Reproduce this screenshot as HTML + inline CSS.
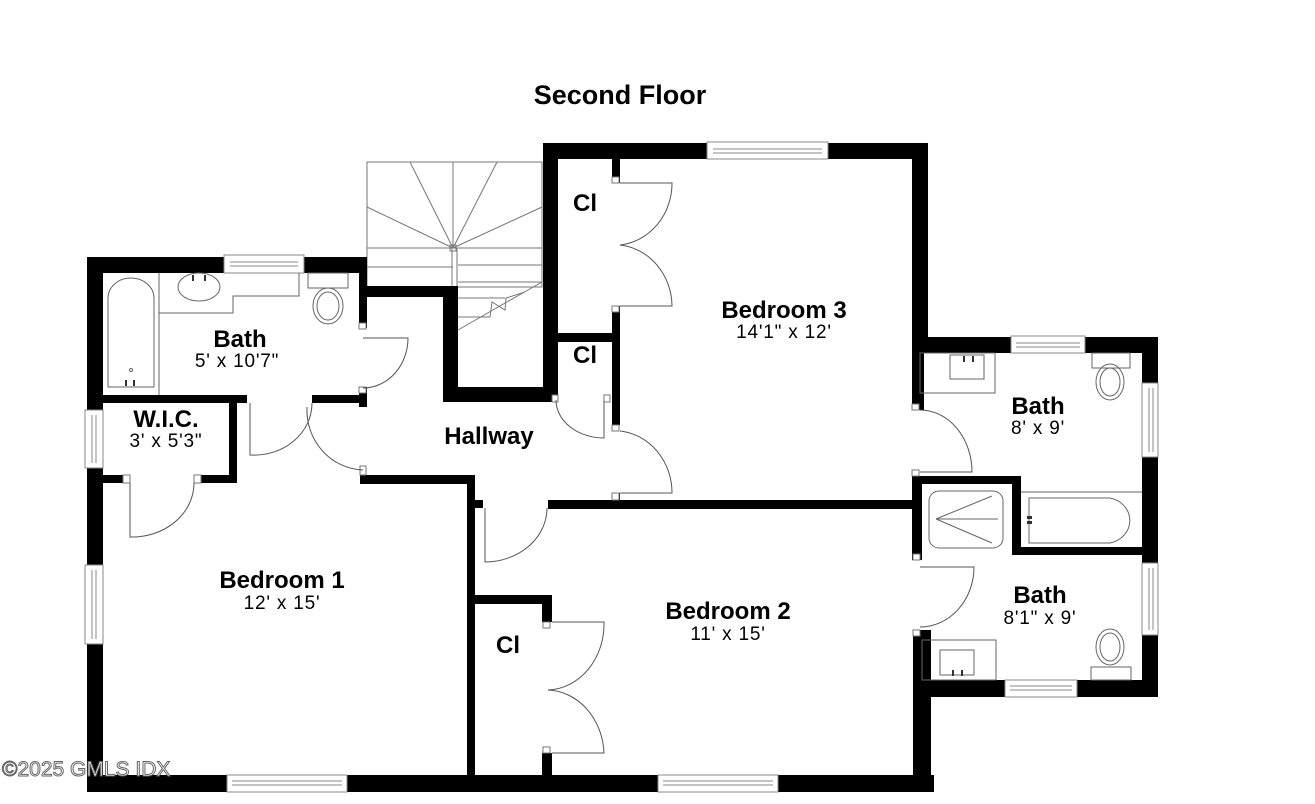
<!DOCTYPE html>
<html><head><meta charset="utf-8"><style>
html,body{margin:0;padding:0;background:#fff;}
svg{display:block;}
text{font-family:"Liberation Sans",Arial,sans-serif;fill:#000;}
.b{font-weight:bold;font-size:24px;}
.s{font-size:19px;letter-spacing:0.8px;}
</style></head><body>
<svg width="1315" height="804" viewBox="0 0 1315 804" xmlns="http://www.w3.org/2000/svg">
<rect width="1315" height="804" fill="#fff"/>

<!-- stairs -->
<g stroke="#777" stroke-width="1" fill="none">
<rect x="367" y="162" width="175" height="125"/>
<line x1="453" y1="248" x2="410" y2="162"/>
<line x1="453" y1="248" x2="453" y2="162"/>
<line x1="453" y1="248" x2="497" y2="162"/>
<line x1="453" y1="248" x2="367" y2="207"/>
<line x1="453" y1="248" x2="542" y2="207"/>
<line x1="367" y1="248" x2="542" y2="248"/>
<line x1="367" y1="267" x2="453" y2="267"/>
<line x1="458" y1="265" x2="542" y2="265"/>
<line x1="458" y1="282" x2="542" y2="282"/>
<line x1="542" y1="282" x2="542" y2="287"/>
<line x1="542" y1="282" x2="458" y2="330"/>
<line x1="458" y1="298" x2="505" y2="298"/>
<line x1="458" y1="317" x2="490" y2="317"/>
<polyline points="490,317 492,302 505,310 506,298 525,292"/>
<rect x="452" y="248" width="5" height="84"/>
<rect x="450" y="245" width="6" height="6"/>
</g>

<!-- walls -->
<g fill="#000">
<rect x="87" y="257" width="280" height="16"/>
<rect x="87" y="257" width="16" height="535"/>
<rect x="359" y="257" width="8" height="71"/>
<rect x="359" y="387" width="8" height="20"/>
<rect x="359" y="286" width="99" height="11"/>
<rect x="443" y="286" width="15" height="116"/>
<rect x="443" y="387" width="115" height="15"/>
<rect x="543" y="143" width="15" height="259"/>
<rect x="543" y="143" width="385" height="16"/>
<rect x="912" y="143" width="16" height="200"/>
<rect x="912" y="337" width="12" height="73"/>
<rect x="912" y="476" width="10" height="84"/>
<rect x="912" y="476" width="109" height="8"/>
<rect x="1012" y="476" width="9" height="79"/>
<rect x="1012" y="547" width="146" height="8"/>
<rect x="912" y="337" width="246" height="16"/>
<rect x="1142" y="337" width="16" height="360"/>
<rect x="913" y="630" width="18" height="162"/>
<rect x="913" y="680" width="245" height="17"/>
<rect x="548" y="500" width="365" height="9"/>
<rect x="558" y="333" width="62" height="9"/>
<rect x="612" y="159" width="8" height="24"/>
<rect x="612" y="306" width="8" height="119"/>
<rect x="612" y="493" width="8" height="8"/>
<rect x="103" y="395" width="144" height="8"/>
<rect x="312" y="395" width="55" height="8"/>
<rect x="229" y="395" width="8" height="88"/>
<rect x="103" y="475" width="20" height="8"/>
<rect x="200" y="475" width="37" height="8"/>
<rect x="360" y="475" width="115" height="9"/>
<rect x="467" y="475" width="8" height="305"/>
<rect x="475" y="500" width="8" height="8"/>
<rect x="475" y="595" width="77" height="9"/>
<rect x="542" y="595" width="10" height="27"/>
<rect x="542" y="753" width="10" height="25"/>
<rect x="87" y="775" width="847" height="17"/>
</g>

<g fill="#fff" stroke="#777" stroke-width="1">
<rect x="359" y="323" width="7" height="6"/><rect x="359" y="387" width="7" height="6"/>
<rect x="612" y="177" width="7" height="6"/><rect x="612" y="306" width="7" height="6"/>
<rect x="612" y="425" width="7" height="6"/><rect x="612" y="493" width="7" height="7"/>
<rect x="552" y="395" width="6" height="7"/><rect x="604" y="395" width="6" height="7"/>
<rect x="912" y="404" width="7" height="6"/><rect x="912" y="470" width="7" height="6"/>
<rect x="913" y="554" width="7" height="6"/><rect x="913" y="630" width="7" height="6"/>
<rect x="123" y="475" width="7" height="8"/><rect x="194" y="475" width="7" height="8"/>
<rect x="360" y="466" width="6" height="9"/><rect x="543" y="622" width="7" height="6"/>
<rect x="543" y="747" width="7" height="6"/>
</g>

<g stroke="#555" stroke-width="1" fill="none">
<path d="M363,338 L408,338 A45,50 0 0 1 363,388"/>
<path d="M250,403 L250,455 A58,52 0 0 0 312,403"/>
<path d="M307,407 A58,60 0 0 0 363,470"/>
<path d="M130,483 L130,537 A62,54 0 0 0 194,483"/>
<path d="M485,508 L485,562 A62,54 0 0 0 547,508"/>
<path d="M620,183 L672,183 A58,62 0 0 1 620,245 A58,62 0 0 1 672,306 L620,306"/>
<path d="M620,493 L672,493 A58,62 0 0 0 620,431"/>
<path d="M556,400 A48,38 0 0 0 604,438 L604,400"/>
<path d="M920,410 A52,62 0 0 1 972,472 L920,472"/>
<path d="M920,567 L974,567 A54,60 0 0 1 920,627"/>
<path d="M552,622 L604,622 A58,66 0 0 1 548,690 A58,66 0 0 1 604,753 L552,753"/>
</g>

<g fill="#fff" stroke="#888" stroke-width="1">
<rect x="224" y="255" width="80" height="18"/><line x1="230" y1="262" x2="298" y2="262"/><line x1="230" y1="266" x2="298" y2="266"/>
<rect x="707" y="142" width="121" height="17"/><line x1="713" y1="149" x2="822" y2="149"/><line x1="713" y1="153" x2="822" y2="153"/>
<rect x="1011" y="336" width="74" height="17"/><line x1="1016" y1="343" x2="1080" y2="343"/><line x1="1016" y1="347" x2="1080" y2="347"/>
<rect x="1142" y="383" width="16" height="74"/><line x1="1149" y1="388" x2="1149" y2="452"/><line x1="1153" y1="388" x2="1153" y2="452"/>
<rect x="1142" y="563" width="16" height="72"/><line x1="1149" y1="568" x2="1149" y2="630"/><line x1="1153" y1="568" x2="1153" y2="630"/>
<rect x="1005" y="680" width="72" height="17"/><line x1="1010" y1="686" x2="1072" y2="686"/><line x1="1010" y1="690" x2="1072" y2="690"/>
<rect x="85" y="410" width="18" height="58"/><line x1="92" y1="415" x2="92" y2="463"/><line x1="96" y1="415" x2="96" y2="463"/>
<rect x="85" y="565" width="18" height="79"/><line x1="92" y1="570" x2="92" y2="639"/><line x1="96" y1="570" x2="96" y2="639"/>
<rect x="227" y="775" width="120" height="17"/><line x1="232" y1="781" x2="342" y2="781"/><line x1="232" y1="785" x2="342" y2="785"/>
<rect x="658" y="775" width="120" height="17"/><line x1="663" y1="781" x2="773" y2="781"/><line x1="663" y1="785" x2="773" y2="785"/>
</g>

<g stroke="#666" stroke-width="1" fill="none">
<path d="M108,387 L108,298 A23,20 0 0 1 154,298 L154,387 Z"/>
<line x1="159" y1="273" x2="159" y2="395"/>
<polyline points="159,313 233,313 233,296 299,296 299,273"/>
<ellipse cx="199" cy="287" rx="21" ry="14"/>
<rect x="308" y="273" width="40" height="15"/>
<ellipse cx="328" cy="306" rx="15" ry="18"/><ellipse cx="328" cy="306" rx="11" ry="14"/>
<circle cx="131" cy="370" r="1.5"/>
<rect x="920" y="353" width="75" height="40"/>
<rect x="950" y="355" width="34" height="24"/>
<rect x="1092" y="353" width="38" height="15"/>
<ellipse cx="1110" cy="382" rx="14" ry="18"/><ellipse cx="1110" cy="382" rx="10" ry="14"/>
<rect x="929" y="491" width="74" height="57" rx="10"/>
<line x1="936" y1="519" x2="998" y2="519"/><line x1="936" y1="519" x2="992" y2="496"/><line x1="936" y1="519" x2="992" y2="543"/>
<line x1="1021" y1="492" x2="1142" y2="492"/>
<path d="M1029,498 L1110,498 A25,23 0 0 1 1110,543 L1029,543 Z"/>
<rect x="922" y="640" width="74" height="40"/>
<rect x="940" y="650" width="34" height="25"/>
<rect x="1091" y="667" width="40" height="13"/>
<ellipse cx="1110" cy="647" rx="14" ry="18"/><ellipse cx="1110" cy="647" rx="10" ry="14"/>
</g>
<g fill="#333">
<rect x="125" y="380" width="2" height="6"/><rect x="133" y="380" width="2" height="6"/>
<rect x="192" y="275" width="2" height="6"/><rect x="204" y="275" width="2" height="6"/>
<rect x="1027" y="516" width="5" height="3"/><rect x="1027" y="521" width="5" height="3"/>
<rect x="963" y="356" width="2" height="6"/><rect x="972" y="356" width="2" height="6"/>
<rect x="952" y="670" width="2" height="6"/><rect x="961" y="670" width="2" height="6"/>
</g>

<text x="620" y="104" text-anchor="middle" font-weight="bold" font-size="27">Second Floor</text>
<text x="784" y="318" text-anchor="middle" class="b">Bedroom 3</text>
<text x="784" y="338" text-anchor="middle" class="s">14'1" x 12'</text>
<text x="240" y="347" text-anchor="middle" class="b">Bath</text>
<text x="237" y="367" text-anchor="middle" class="s">5' x 10'7"</text>
<text x="166" y="427" text-anchor="middle" class="b">W.I.C.</text>
<text x="166" y="447" text-anchor="middle" class="s">3' x 5'3"</text>
<text x="489" y="444" text-anchor="middle" class="b">Hallway</text>
<text x="282" y="588" text-anchor="middle" class="b">Bedroom 1</text>
<text x="282" y="609" text-anchor="middle" class="s">12' x 15'</text>
<text x="728" y="619" text-anchor="middle" class="b">Bedroom 2</text>
<text x="728" y="640" text-anchor="middle" class="s">11' x 15'</text>
<text x="585" y="211" text-anchor="middle" class="b">Cl</text>
<text x="585" y="363" text-anchor="middle" class="b">Cl</text>
<text x="508" y="653" text-anchor="middle" class="b">Cl</text>
<text x="1038" y="414" text-anchor="middle" class="b">Bath</text>
<text x="1038" y="434" text-anchor="middle" class="s">8' x 9'</text>
<text x="1040" y="603" text-anchor="middle" class="b">Bath</text>
<text x="1040" y="624" text-anchor="middle" class="s">8'1" x 9'</text>
<text x="2" y="776" font-size="21" stroke="#666" stroke-width="1" style="fill:#fff">©2025 GMLS IDX</text>
</svg>
</body></html>
